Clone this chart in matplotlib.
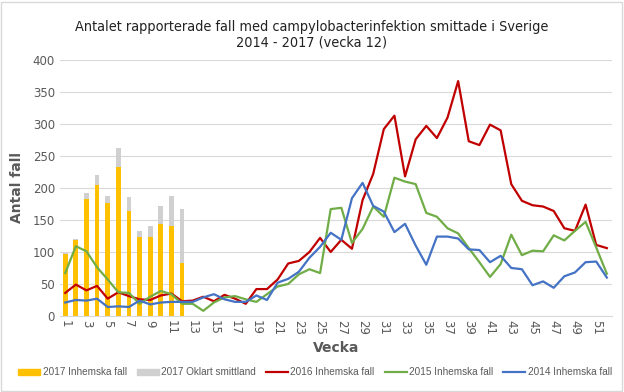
import numpy as np
import matplotlib.pyplot as plt
from matplotlib.patches import Patch, Rectangle
from matplotlib.lines import Line2D

weeks = list(range(1, 53))
weeks_2017 = list(range(1, 13))

inhemska_2017 = [97, 119, 182, 205, 176, 233, 164, 123, 124, 144, 141, 82]
oklart_2017 = [1, 2, 10, 15, 12, 30, 22, 10, 17, 28, 47, 85]

inhemska_2016 = [36, 49, 40, 47, 27, 37, 31, 26, 25, 32, 35, 23, 24, 30, 23, 33,
                 27, 19, 42, 42, 57, 82, 86, 100, 122, 100, 119, 105, 181, 222,
                 292, 313, 218, 276, 297, 278, 310, 367, 273, 267, 299, 290, 206,
                 180, 173, 171, 164, 137, 133, 174, 111, 106]
inhemska_2015 = [67, 109, 101, 76, 57, 37, 36, 19, 30, 39, 34, 19, 19, 8, 21, 29,
                 31, 26, 22, 34, 46, 50, 65, 73, 67, 167, 169, 114, 136, 171,
                 155, 216, 210, 206, 161, 155, 137, 129, 106, 84, 61, 81, 127,
                 95, 102, 101, 126, 118, 133, 147, 107, 66]
inhemska_2014 = [21, 25, 24, 27, 14, 15, 14, 24, 18, 21, 22, 22, 22, 29, 34, 26,
                 22, 22, 32, 25, 52, 58, 69, 91, 108, 130, 119, 184, 208, 172,
                 163, 131, 144, 110, 80, 124, 124, 121, 104, 103, 84, 94, 75,
                 73, 48, 54, 44, 62, 68, 84, 85, 60]

c_yellow = "#FFC000"
c_gray = "#D0D0D0"
c_red = "#C00000"
c_green = "#70AD47"
c_blue = "#4472C4"
txt = "#595959"

plt.rcParams['font.family'] = ['DejaVu Sans']

fig = plt.figure(figsize=(6.24, 3.92), dpi=100)
ax = fig.add_axes([0.096, 0.194, 0.885, 0.653])

ax.bar(weeks_2017, inhemska_2017, width=0.45, color=c_yellow, zorder=2)
ax.bar(weeks_2017, oklart_2017, width=0.45, bottom=inhemska_2017, color=c_gray, zorder=2)
ax.plot(weeks, inhemska_2016, color=c_red, lw=1.6, zorder=3)
ax.plot(weeks, inhemska_2015, color=c_green, lw=1.6, zorder=3)
ax.plot(weeks, inhemska_2014, color=c_blue, lw=1.6, zorder=3)

ax.set_xlim(0.5, 52.5)
ax.set_ylim(0, 400)
ax.set_yticks(np.arange(0, 401, 50))
ax.set_xticks(weeks[::2])
ax.set_xticklabels([str(w) for w in weeks[::2]], rotation=-90)
ax.grid(axis='y', color='#D9D9D9', lw=0.8, zorder=0)
ax.tick_params(length=0, colors=txt, labelsize=8.5)
ax.tick_params(axis='x', pad=3)
for s in ['top', 'right', 'left']:
    ax.spines[s].set_visible(False)
ax.spines['bottom'].set_color('#D9D9D9')

ax.set_xlabel("Vecka", fontsize=10, fontweight='bold', color=txt, labelpad=4)
ax.set_ylabel("Antal fall", fontsize=10, fontweight='bold', color=txt, labelpad=6)

fig.suptitle("Antalet rapporterade fall med campylobacterinfektion smittade i Sverige\n2014 - 2017 (vecka 12)",
             fontsize=10.4, y=0.95, va='top', color='#222222',
             fontstretch='condensed', linespacing=1.2)

handles = [Patch(color=c_yellow), Patch(color=c_gray),
           Line2D([], [], color=c_red, lw=1.6),
           Line2D([], [], color=c_green, lw=1.6),
           Line2D([], [], color=c_blue, lw=1.6)]
labels = ["2017 Inhemska fall", "2017 Oklart smittland", "2016 Inhemska fall",
          "2015 Inhemska fall", "2014 Inhemska fall"]
fig.legend(handles, labels, loc='center', bbox_to_anchor=(0.505, 0.05), ncol=5,
           frameon=False, prop={'family': 'Liberation Sans', 'size': 7.2},
           labelcolor=txt, handlelength=2.2, handleheight=0.55,
           columnspacing=1.0, handletextpad=0.25)

fig.patches.append(Rectangle((0.002, 0.003), 0.995, 0.993, transform=fig.transFigure,
                             fill=False, edgecolor='#D9D9D9', lw=1))

fig.savefig("out.png", dpi=100)
